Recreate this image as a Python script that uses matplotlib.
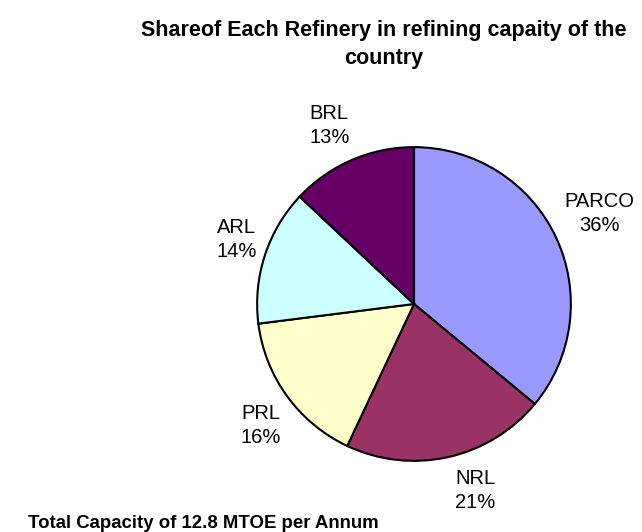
import matplotlib
matplotlib.use('Agg')
import matplotlib.pyplot as plt

# share of refining capacity, clockwise from 12 o'clock
refineries = ['PARCO', 'NRL', 'PRL', 'ARL', 'BRL']
shares = [36, 21, 16, 14, 13]
colors = ['#9999FF', '#993366', '#FFFFCC', '#CCFFFF', '#660066']

# where each label sits, in pie radius units
label_pos = [(1.18, 0.575), (0.39, -1.19), (-0.975, -0.775), (-1.13, 0.41), (-0.54, 1.14)]

plt.rcParams['font.family'] = ['Liberation Sans', 'DejaVu Sans']

fig = plt.figure(figsize=(6.42, 5.32), dpi=100)

# pie centre ~ (414, 304) px, radius ~160 px
ax = fig.add_axes([254 / 642, 68 / 532, 320 / 642, 320 / 532])
ax.pie(shares, colors=colors, startangle=90, counterclock=False,
       wedgeprops={'edgecolor': 'black', 'linewidth': 1.5})
for name, s, (x, y) in zip(refineries, shares, label_pos):
    ax.text(x, y, '%s\n%d%%' % (name, s), ha='center', va='center',
            fontsize=14.5, linespacing=1.35)
ax.set_xlim(-1.02, 1.02)
ax.set_ylim(-1.02, 1.02)
ax.set_aspect('equal')

fig.text(0.598, 0.917, 'Shareof Each Refinery in refining capaity of the\ncountry',
         ha='center', va='center', fontsize=15.5, fontweight='bold', linespacing=1.45)
fig.text(28 / 642, 4 / 532, 'Total Capacity of 12.8 MTOE per Annum',
         ha='left', va='baseline', fontsize=13.4, fontweight='bold')

fig.savefig('out.png', dpi=100)
